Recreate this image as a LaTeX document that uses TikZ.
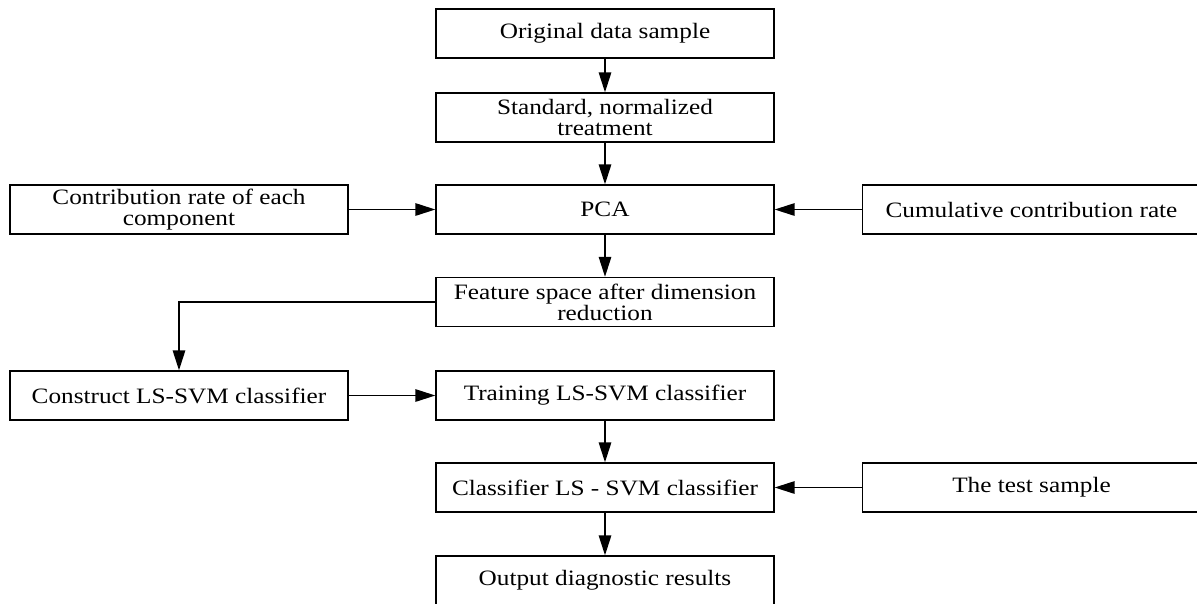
\documentclass[tikz,border=0pt]{standalone}
\usepackage{fontspec}
\setmainfont[FakeStretch=1.15]{Liberation Serif}
\usetikzlibrary{arrows.meta,positioning}
\begin{document}
\begin{tikzpicture}[x=0.02cm,y=-0.02cm,line width=0.8pt,
	>={Triangle[length=0.4cm,width=0.25cm]},
	box/.style={draw,rectangle,minimum width=6.76cm,minimum height=0.98cm,align=center,inner sep=1pt,font=\fontsize{12.5}{11.8}\selectfont}]
	\useasboundingbox (0,0) rectangle (1197,603);
	\node [box] (orig) at (605,33.5) {Original data sample};
	\node [box] (std) at (605,117.5) {Standard, normalized\\treatment};
	\node [box] (pca) at (605,209.5) {PCA};
	\node [box] (contrib) at (179,209.5) {Contribution rate of each\\component};
	\node [box] (cumul) at (1031.5,209.5) {Cumulative contribution rate};
	\node [box] (feat) at (605,302) {Feature space after dimension\\reduction};
	\node [box] (constr) at (179,395.5) {Construct LS-SVM classifier};
	\node [box] (train) at (605,395.5) {Training LS-SVM classifier};
	\node [box] (clsf) at (605,487.5) {Classifier LS - SVM classifier};
	\node [box] (test) at (1031.5,487.5) {The test sample};
	\node [box] (out) at (605,580.5) {Output diagnostic results};
	\draw [->] (orig) -- (std);
	\draw [->] (std) -- (pca);
	\draw [->] (contrib) -- (pca);
	\draw [->] (cumul) -- (pca);
	\draw [->] (pca) -- (feat);
	\draw [->] (feat.west) -| (constr.north);
	\draw [->] (constr) -- (train);
	\draw [->] (train) -- (clsf);
	\draw [->] (test) -- (clsf);
	\draw [->] (clsf) -- (out);
\end{tikzpicture}
\end{document}
